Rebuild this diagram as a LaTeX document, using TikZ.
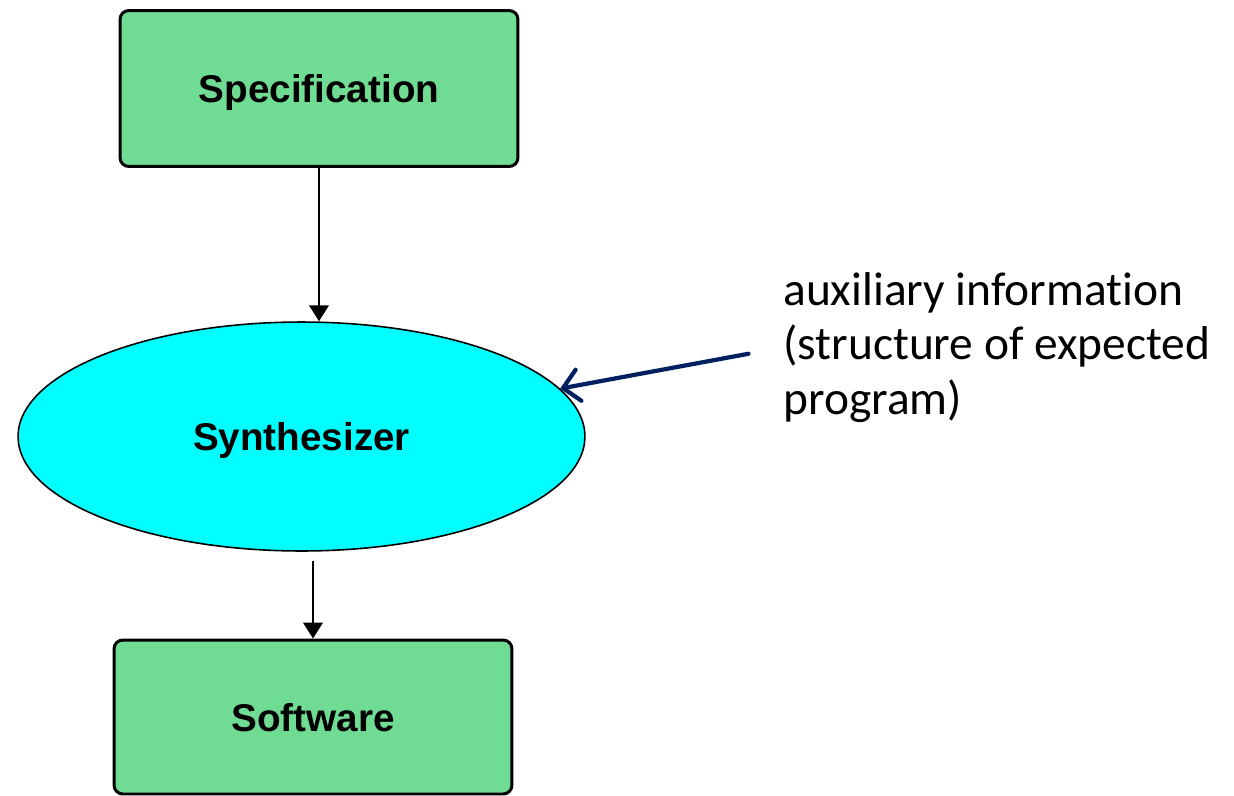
\documentclass[tikz,border=0pt]{standalone}
\usepackage{fontspec}
\setmainfont[Ligatures=NoCommon]{Carlito}
\newfontfamily\boxfont{Liberation Sans}
\usetikzlibrary{shapes.geometric,arrows.meta}

\definecolor{boxgreen}{RGB}{112,219,147}
\definecolor{synthcyan}{RGB}{0,255,255}
\definecolor{auxnavy}{RGB}{0,32,96}

\tikzset{
    stage/.style={draw, line width=1.7pt, fill=boxgreen, rounded corners=5pt,
        minimum width=7.96cm, minimum height=3.12cm, inner sep=0pt, text depth=0pt,
        font=\boxfont\bfseries\fontsize{22}{26}\selectfont},
    engine/.style={ellipse, draw, line width=0.9pt, fill=synthcyan,
        minimum width=11.34cm, minimum height=4.58cm, inner sep=0pt, text depth=0pt,
        font=\boxfont\bfseries\fontsize{22}{26}\selectfont},
    flow/.style={line width=1.4pt, -{Triangle[width=11pt,length=9pt]}},
    hint/.style={line width=2.4pt, auxnavy, line cap=round,
        -{Straight Barb[length=9pt,width=18pt,line cap=round]}},
}

\begin{document}
\begin{tikzpicture}[x=0.02cm, y=-0.02cm]
\useasboundingbox (0,0) rectangle (1234,795);
%%   kw   (name)   (x, y)   {text}
    \node[stage] (spec) at (319, 88.5) {Specification};
    \node[engine] (synth) at (301.5, 436.5) {Synthesizer};
    \node[stage, minimum height=3.08cm] (soft) at (313, 717) {Software};
    \node[anchor=north west, align=left, inner sep=0pt,
        font=\fontsize{27}{31}\selectfont] (aux) at (783, 272)
        {auxiliary information\\(structure of expected\\program)};

    \draw[flow] (spec.south) -- (spec.south |- synth.north);
    \draw[flow, shorten <=5] (synth.south -| soft.north) -- (soft.north);
    \draw[hint, shorten <=20] (aux.west) -- (synth);
\end{tikzpicture}
\end{document}
